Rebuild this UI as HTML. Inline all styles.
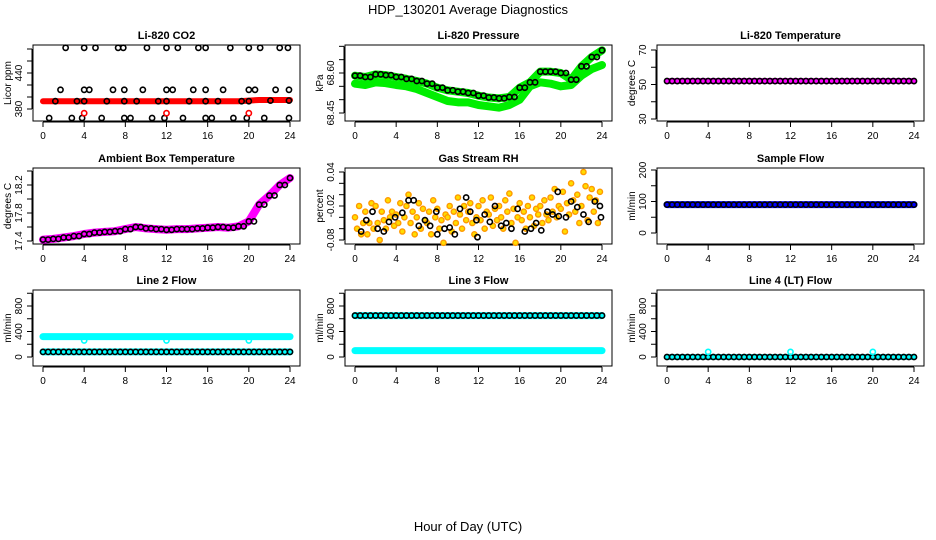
<!DOCTYPE html>
<html><head><meta charset="utf-8"><style>
html,body{margin:0;padding:0;background:#fff}
svg{display:block;font-family:"Liberation Sans",Arial,sans-serif}
</style></head><body>
<svg id="c" width="936" height="540" viewBox="0 0 936 540" xmlns="http://www.w3.org/2000/svg">
<text x="468" y="14" text-anchor="middle" font-size="13">HDP_130201  Average Diagnostics</text>
<text x="468" y="531" text-anchor="middle" font-size="13">Hour of Day (UTC)</text>
</svg>
<script>
const hours = [0,1,2,3,4,5,6,7,8,9,10,11,12,13,14,15,16,17,18,19,20,21,22,23,24];
const xTicks = [0,4,8,12,16,20,24];
// CO2
const co2Red = [393,393,393,393,393,393,393,393,393,393,393,393,393,393,393,393,393,393,393,393,394,395,395,395,395];
const co2TopH = [2.2,4,5.1,7.3,7.8,10.1,12,13.1,15.1,15.8,18.2,20,21.1,23,23.8];
const co2TopV = [482,482,482,482,482,482,482,482,482,482,482,482,482,482,482];
const co2MidH = [1.7,4,4.5,6.8,7.9,9.7,12,12.6,14.6,15.8,17.5,20,20.6,22.6,23.9];
const co2MidV = [412,412,412,412,412,412,412,412,412,412,412,412,412,412,412];
const co2LinH = [1.2,3.3,4,6.2,7.9,9.1,11.2,12,14.2,15.8,17,19.3,20,22.1,23.9];
const co2LinV = [393,393,393,393,393,393,393,393,393,393,393,393,393,394,394];
const co2LowH = [0.6,2.8,3.8,5.7,7.9,8.5,10.6,11.8,13.6,15.8,16.4,18.5,19.8,21.5,23.9];
const co2LowV = [365,365,365,365,365,365,365,365,365,365,365,365,365,365,365];
const co2RedCircH = [4,12,20];
const co2RedCircV = [373,373,373];
// Pressure
const presUpper = [68.59,68.585,68.595,68.592,68.585,68.578,68.57,68.56,68.545,68.535,68.53,68.525,68.515,68.508,68.505,68.51,68.545,68.565,68.605,68.605,68.60,68.575,68.625,68.66,68.685];
const presLower = [68.56,68.555,68.565,68.562,68.555,68.55,68.54,68.525,68.51,68.495,68.49,68.49,68.48,68.475,68.47,68.48,68.5,68.55,68.565,68.56,68.55,68.555,68.59,68.615,68.63];
// Temperature
const li820Temp = [52,52,52,52,52,52,52,52,52,52,52,52,52,52,52,52,52,52,52,52,52,52,52,52,52];
// Ambient
const ambient = [17.42,17.43,17.45,17.47,17.5,17.52,17.53,17.54,17.57,17.6,17.58,17.57,17.56,17.57,17.57,17.58,17.59,17.6,17.59,17.61,17.68,17.92,18.05,18.2,18.3];
// RH
const rhCloud = [
[-0.04,-0.06,-0.02,-0.07,-0.05],[-0.03,-0.07,-0.05,-0.015,-0.06],[-0.02,-0.05,-0.08,-0.03,-0.045],
[-0.06,-0.01,-0.04,-0.03,-0.055],[-0.035,-0.05,-0.015,-0.065,-0.04],[-0.02,0.0,-0.05,-0.03,-0.07],
[-0.04,-0.015,-0.06,-0.025,-0.045],[-0.05,-0.03,-0.07,-0.01,-0.04],[-0.025,-0.06,-0.045,-0.085,-0.035],
[-0.04,-0.02,-0.065,-0.03,-0.05],[-0.005,-0.035,-0.06,-0.02,-0.045],[-0.03,-0.015,-0.05,-0.07,-0.04],
[-0.02,-0.045,-0.01,-0.06,-0.03],[-0.035,-0.005,-0.055,-0.025,-0.045],[-0.02,-0.04,-0.06,-0.01,-0.03],
[0.002,-0.05,-0.025,-0.085,-0.04],[-0.015,-0.045,-0.03,-0.06,-0.02],[-0.04,-0.005,-0.055,-0.025,-0.035],
[-0.02,-0.05,-0.01,-0.035,-0.045],[-0.005,-0.03,0.01,-0.04,-0.02],[-0.025,0.005,-0.065,-0.015,-0.035],
[0.02,-0.01,-0.03,0.0,-0.05],[-0.02,0.04,0.015,-0.045,-0.005],[0.01,-0.03,-0.01,-0.05,0.005]];
const rhBlackH = [0.6,1.1,1.7,2.2,2.8,3.3,3.9,4.6,5.2,5.7,6.2,6.8,7.3,7.9,8.0,8.7,9.2,9.7,10.2,10.8,11.2,11.8,11.9,12.6,13.1,13.6,14.2,14.7,15.2,15.8,16.5,17.1,17.6,18.1,18.7,19.2,19.7,19.8,20.5,21.0,21.6,22.2,22.7,23.3,23.8,23.9];
const rhBlackV = [-0.065,-0.045,-0.03,-0.06,-0.065,-0.048,-0.04,-0.032,-0.01,-0.01,-0.055,-0.045,-0.055,-0.03,-0.07,-0.06,-0.058,-0.07,-0.025,-0.005,-0.03,-0.045,-0.075,-0.035,-0.048,-0.02,-0.055,-0.05,-0.06,-0.025,-0.065,-0.06,-0.05,-0.063,-0.03,-0.035,0.005,-0.038,-0.04,-0.012,-0.022,-0.035,-0.048,-0.012,-0.02,-0.04];
// Flows
const sampleFlow = [90,90,90,90,90,90,90,90,90,90,90,90,90,90,90,90,90,90,90,90,90,90,90,90,90];
const line2High = [320,320,320,320,320,320,320,320,320,320,320,320,320,320,320,320,320,320,320,320,320,320,320,320,320];
const line2Low = [80,80,80,80,80,80,80,80,80,80,80,80,80,80,80,80,80,80,80,80,80,80,80,80,80];
const line2DipH = [4,12,20];
const line2DipV = [260,260,260];
const line3High = [650,650,650,650,650,650,650,650,650,650,650,650,650,650,650,650,650,650,650,650,650,650,650,650,650];
const line3Low = [100,100,100,100,100,100,100,100,100,100,100,100,100,100,100,100,100,100,100,100,100,100,100,100,100];
const line4 = [0,0,0,0,0,0,0,0,0,0,0,0,0,0,0,0,0,0,0,0,0,0,0,0,0];
const line4SpikeH = [4,12,20];
const line4SpikeV = [80,80,80];

const svg = document.getElementById('c');
const NS = 'http://www.w3.org/2000/svg';
function mk(tag, attrs, parent){const e=document.createElementNS(NS,tag);for(const k in attrs)e.setAttribute(k,attrs[k]);(parent||svg).appendChild(e);return e;}
const colL=[33,345,657], rowT=[45,168,290], BW=267, BH=76;

function panel(c,r,title,ytitle,v0,p0,v1,p1,ticks,labels,name){
  const L=colL[c], T=rowT[r];
  const g=mk('g',{});
  
  
  const x=h=>L+10+h*(BW-20)/24;
  const y=v=>p0+(v-v0)*(p1-p0)/(v1-v0);
  const box=mk('rect',{x:L,y:T,width:BW,height:BH,fill:'none',stroke:'#000','stroke-width':1},g);
  
  
  const t=mk('text',{x:L+BW/2,y:T-6,'text-anchor':'middle','font-size':11,'font-weight':'bold'},g);t.textContent=title;
  
  
  mk('line',{x1:x(0),x2:x(24),y1:T+BH+1,y2:T+BH+1,stroke:'#000'},g);
  xTicks.forEach(v=>{mk('line',{x1:x(v),x2:x(v),y1:T+BH+1,y2:T+BH+6,stroke:'#000'},g);
    const tl=mk('text',{x:x(v),y:T+BH+18,'text-anchor':'middle','font-size':10},g);tl.textContent=v;
    
    });
  mk('line',{x1:L-1,x2:L-1,y1:y(ticks[0]),y2:y(ticks[ticks.length-1]),stroke:'#000'},g);
  ticks.forEach(v=>mk('line',{x1:L-6,x2:L-1,y1:y(v),y2:y(v),stroke:'#000'},g));
  labels.forEach(v=>{const tl=mk('text',{x:0,y:0,'text-anchor':'middle','font-size':10,transform:`translate(${L-11},${y(v)}) rotate(-90)`},g);tl.textContent=v;
    
    });
  const yt=mk('text',{x:0,y:0,'text-anchor':'middle','font-size':10,transform:`translate(${L-22},${T+BH/2}) rotate(-90)`},g);yt.textContent=ytitle;
  
  
  return {g,x,y};
}
function band(P,hs,vs,col,w){const d=hs.map((h,i)=>(i?'L':'M')+P.x(h)+','+P.y(vs[i])).join('');
  const p=mk('path',{d:d,fill:'none',stroke:col,'stroke-width':w,'stroke-linejoin':'round','stroke-linecap':'round'},P.g);
  
  }
function pts(P,hs,vs,col,r,sw){hs.forEach((h,i)=>{const c=mk('circle',{cx:P.x(h),cy:P.y(vs[i]),r:r||2.6,fill:'none',stroke:col,'stroke-width':sw||1.6},P.g);
  
  });}
function halfPts(P,vs,col){// points between hourly values at 0.5h offsets use hourly values
  pts(P,hours,vs,col);pts(P,hours.slice(0,24).map(h=>h+0.5),vs.slice(0,24),col);}

// Row 1
let P=panel(0,0,'Li-820 CO2','Licor ppm',380,109,440,73,[380,400,420,440,460,480],[380,440],'co2-panel');
band(P,hours,co2Red,'#ff0000',6);
pts(P,co2TopH,co2TopV,'#000');pts(P,co2MidH,co2MidV,'#000');pts(P,co2LinH,co2LinV,'#000');pts(P,co2LowH,co2LowV,'#000');
pts(P,co2RedCircH,co2RedCircV,'#ff0000');
P=panel(1,0,'Li-820 Pressure','kPa',68.45,113,68.60,73,[68.45,68.5,68.55,68.6,68.65,68.7],[68.45,68.60].map(v=>v.toFixed(2)),'pressure-panel');
band(P,hours,presUpper,'#00ee00',8);band(P,hours,presLower,'#00ee00',8);
halfPts(P,presUpper,'#000');
P=panel(2,0,'Li-820 Temperature','degrees C',30,119,70,50,[30,40,50,60,70],[30,50,70],'temperature-panel');
band(P,hours,li820Temp,'#ff00ff',6);halfPts(P,li820Temp,'#000');
// Row 2
P=panel(0,1,'Ambient Box Temperature','degrees C',17.4,241,18.2,185,[17.4,17.6,17.8,18.0,18.2,18.4],['17.4','17.8','18.2'],'ambient-panel');
band(P,hours,ambient,'#ff00ff',8);halfPts(P,ambient,'#000');
P=panel(1,1,'Gas Stream RH','percent',0.04,172,-0.08,240,[-0.08,-0.06,-0.04,-0.02,0,0.02,0.04],['0.04','-0.02','-0.08'],'rh-panel');
rhCloud.forEach((grp,hh)=>{grp.forEach((v,k)=>{const c=mk('circle',{cx:P.x(hours[hh]+k*0.2),cy:P.y(v),r:2.6,fill:'#ffdd00',stroke:'#ff9900','stroke-width':1.4},P.g);
  
  });});
pts(P,rhBlackH,rhBlackV,'#000');
P=panel(2,1,'Sample Flow','ml/min',0,233,200,170,[0,50,100,150,200],[0,100,200],'sample-flow-panel');
band(P,hours,sampleFlow,'#0000ff',7);halfPts(P,sampleFlow,'#000');
// Row 3
const fT=[0,200,400,600,800,1000], fL=[0,400,800];
P=panel(0,2,'Line 2 Flow','ml/min',0,357,800,306,fT,fL,'line2-flow-panel');
band(P,hours,line2High,'#00ffff',7);band(P,hours,line2Low,'#00ffff',7);
pts(P,line2DipH,line2DipV,'#00ffff');halfPts(P,line2Low,'#000');
P=panel(1,2,'Line 3 Flow','ml/min',0,357,800,306,fT,fL,'line3-flow-panel');
band(P,hours,line3High,'#00ffff',7);band(P,hours,line3Low,'#00ffff',7);
halfPts(P,line3High,'#000');
P=panel(2,2,'Line 4 (LT) Flow','ml/min',0,357,800,306,fT,fL,'line4-flow-panel');
band(P,hours,line4,'#00ffff',6);halfPts(P,line4,'#000');
pts(P,line4SpikeH,line4SpikeV,'#00ffff');
</script>
</body></html>
